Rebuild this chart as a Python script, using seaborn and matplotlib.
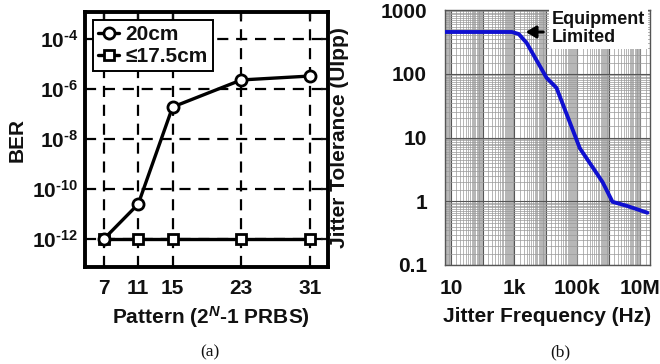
import numpy as np
import pandas as pd
import matplotlib
matplotlib.use("Agg")
import matplotlib.pyplot as plt
import matplotlib.ticker as mticker
import seaborn as sns

# ---------------- data ----------------
pattern_n = [7, 11, 15, 23, 31]
ber_20cm = [1e-12, 2.5e-11, 1.9e-7, 2.3e-6, 3.3e-6]
ber_175cm = [1e-12, 1e-12, 1e-12, 1e-12, 1e-12]
ber_ticks = [1e-12, 1e-10, 1e-8, 1e-6, 1e-4]
ber_labels = ["10$^{\\text{-12}}$", "10$^{\\text{-10}}$", "10$^{\\text{-8}}$",
              "10$^{\\text{-6}}$", "10$^{\\text{-4}}$"]

jt_freq = [6.5, 850, 1.4e3, 2.5e3, 1.07e4, 2.2e4, 1.2e5, 6.3e5, 1.3e6, 3.6e6, 1.66e7]
jt_ui = [452, 452, 420, 304, 86, 60, 6.8, 2.0, 0.98, 0.85, 0.66]
freq_ticks = [10, 1e3, 1e5, 1e7]
freq_labels = ["10", "1k", "100k", "10M"]
ui_ticks = [0.1, 1, 10, 100, 1000]
ui_labels = ["0.1", "1", "10", "100", "1000"]

sns.set_theme(style="white")
plt.rcParams["font.family"] = ["Liberation Sans", "DejaVu Sans"]
plt.rcParams["font.weight"] = "bold"
plt.rcParams["axes.labelweight"] = "bold"
plt.rcParams["axes.unicode_minus"] = False
plt.rcParams["mathtext.fontset"] = "custom"
plt.rcParams["mathtext.rm"] = "Liberation Sans:bold"
plt.rcParams["mathtext.it"] = "Liberation Sans:bold:italic"
plt.rcParams["mathtext.bf"] = "Liberation Sans:bold"
plt.rcParams["mathtext.default"] = "rm"

fig = plt.figure(figsize=(6.6, 3.64), dpi=100)
W, H = 660, 364

def axbox(x0, x1, y0, y1):
    return [x0 / W, 1 - y1 / H, (x1 - x0) / W, (y1 - y0) / H]

# ---------------- panel (a) ----------------
ax1 = fig.add_axes(axbox(85, 328, 12, 267))
ax1.set_yscale("log")
ax1.set_xlim(4.8, 33.1)
ax1.set_ylim(10 ** -13.12, 10 ** -2.92)

df_a = pd.DataFrame({"N": pattern_n, "a": ber_20cm, "b": ber_175cm})
sns.lineplot(data=df_a, x="N", y="a", ax=ax1, color="black", lw=2.4,
             marker="o", markersize=8, markerfacecolor="white",
             markeredgecolor="black", markeredgewidth=2, label="20cm", zorder=5)
sns.lineplot(data=df_a, x="N", y="b", ax=ax1, color="black", lw=2.4,
             marker="s", markersize=7.5, markerfacecolor="white",
             markeredgecolor="black", markeredgewidth=2,
             label="\u226417.5cm", zorder=4)

ax1.set_xticks(pattern_n)
ax1.set_xticklabels([str(v) for v in pattern_n])
ax1.set_yticks(ber_ticks)
ax1.set_yticklabels(ber_labels)
ax1.yaxis.set_minor_locator(mticker.NullLocator())
ax1.grid(True, which="major", color="black", linestyle=(0, (5, 3.5)), lw=1.6)
ax1.tick_params(axis="both", which="major", direction="in", length=5, width=1.6,
                top=True, right=True, labelsize=15, colors="#111111")
ax1.tick_params(axis="x", pad=9)
ax1.tick_params(axis="y", pad=5)
for s in ax1.spines.values():
    s.set_visible(True)
    s.set_color("black")
    s.set_linewidth(2.8)
ax1.set_xlabel("Pattern (2$^{\\mathit{N}}$-1 PRBS)", fontsize=15, color="#111111")
ax1.xaxis.set_label_coords((211 - 85) / 243, (267 - 317) / 255)
ax1.xaxis.label.set_va("center")
ax1.set_ylabel("BER", fontsize=15, color="#111111")
ax1.yaxis.set_label_coords((17 - 85) / 243, 0.5)
ax1.yaxis.label.set_va("center")

leg = ax1.legend(loc="upper left", bbox_to_anchor=(0.033, 0.969), borderaxespad=0,
                 fontsize=15, handlelength=1.0, handletextpad=0.3,
                 borderpad=0.25, labelspacing=0.15, frameon=True, fancybox=False,
                 framealpha=1)
leg.get_frame().set_edgecolor("black")
leg.get_frame().set_linewidth(1.4)
for t in leg.get_texts():
    t.set_fontweight("bold")
    t.set_color("#111111")

# ---------------- panel (b) ----------------
ax2 = fig.add_axes(axbox(445, 650, 10, 265))
ax2.set_xscale("log")
ax2.set_yscale("log")
ax2.set_xlim(6.5, 2e7)
ax2.set_ylim(0.1, 1000)

df_b = pd.DataFrame({"f": jt_freq, "ui": jt_ui})
sns.lineplot(data=df_b, x="f", y="ui", ax=ax2, color="#1010d0", lw=2.8, zorder=5)

ax2.xaxis.set_major_locator(mticker.LogLocator(base=10, numticks=20))
ax2.xaxis.set_minor_locator(mticker.LogLocator(base=10, subs=np.arange(1.5, 10, 0.5), numticks=20))
ax2.yaxis.set_major_locator(mticker.LogLocator(base=10, numticks=20))
ax2.yaxis.set_minor_locator(mticker.LogLocator(base=10, subs=np.arange(1.5, 10, 0.5), numticks=20))
ax2.grid(True, which="major", color="#555555", lw=0.8)
ax2.grid(True, which="minor", color="#999999", lw=0.5)
ax2.set_axisbelow(True)
ax2.xaxis.set_major_formatter(mticker.FuncFormatter(
    lambda v, p: freq_labels[freq_ticks.index(v)] if v in freq_ticks else ""))
ax2.yaxis.set_major_formatter(mticker.FuncFormatter(
    lambda v, p: ui_labels[ui_ticks.index(v)] if v in ui_ticks else ""))
ax2.xaxis.set_minor_formatter(mticker.NullFormatter())
ax2.yaxis.set_minor_formatter(mticker.NullFormatter())
ax2.tick_params(axis="both", which="both", length=0, labelsize=15, colors="#111111")
ax2.tick_params(axis="x", pad=10)
ax2.tick_params(axis="y", pad=13)
for s in ax2.spines.values():
    s.set_visible(True)
    s.set_color("#555555")
    s.set_linewidth(1.0)
ax2.set_xlabel("Jitter Frequency (Hz)", fontsize=15, color="#111111")
ax2.xaxis.set_label_coords((547 - 445) / 205, (265 - 317) / 255)
ax2.xaxis.label.set_va("center")
ax2.set_ylabel("Jitter Tolerance (UIpp)", fontsize=15, color="#111111")
ax2.yaxis.set_label_coords((340 - 445) / 205, 0.5)
ax2.yaxis.label.set_va("center")

ax2.text((552 - 445) / 205, 0.995, "Equipment\nLimited", transform=ax2.transAxes,
         ha="left", va="top", fontsize=13, fontweight="bold", color="#111111",
         linespacing=1.05, zorder=6,
         bbox=dict(boxstyle="square,pad=0.15", fc="white", ec="none"))
ax2.annotate("", xy=((523 - 445) / 205, (265 - 32) / 255),
             xytext=((546 - 445) / 205, (265 - 32) / 255),
             xycoords="axes fraction", textcoords="axes fraction",
             arrowprops=dict(arrowstyle="-|>,head_length=0.5,head_width=0.3",
                             color="black", lw=2.2), zorder=7)

fig.text(210 / W, 1 - 352 / H, "(a)", ha="center", va="center", fontsize=12.5,
         family=["Liberation Serif"], fontweight="normal", color="#111111")
fig.text(560 / W, 1 - 352 / H, "(b)", ha="center", va="center", fontsize=12.5,
         family=["Liberation Serif"], fontweight="normal", color="#111111")

fig.savefig("out.png", dpi=100)
